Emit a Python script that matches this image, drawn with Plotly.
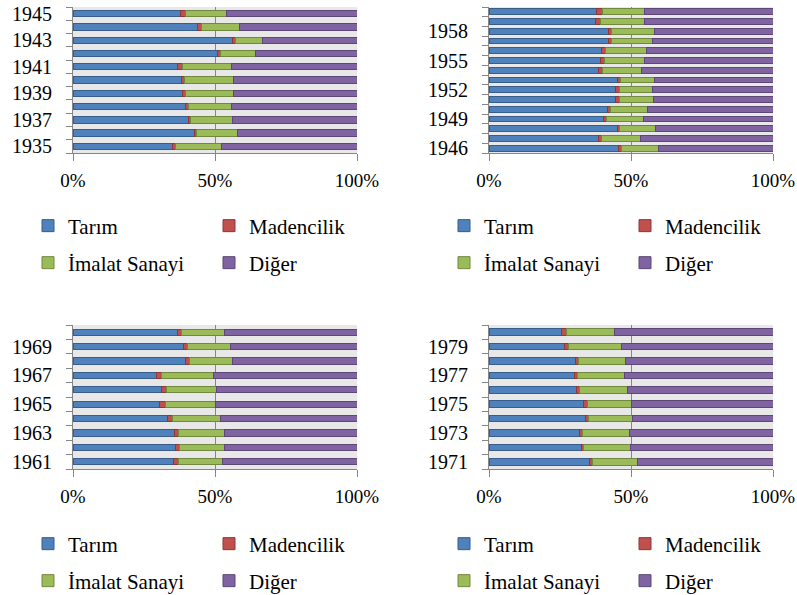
import plotly.graph_objects as go

# ---------------- data (shares, %) ----------------
series_names = ["Tarım", "Madencilik", "İmalat Sanayi", "Diğer"]

years_1 = [1935, 1936, 1937, 1938, 1939, 1940, 1941, 1942, 1943, 1944, 1945]
tarim_1 = [35.1, 42.7, 40.6, 39.6, 38.7, 38.1, 36.7, 50.9, 56.1, 43.8, 38.0]
maden_1 = [1.0, 0.9, 0.8, 1.0, 0.8, 1.3, 1.9, 1.0, 1.0, 1.4, 1.6]
imalat_1 = [16.1, 14.2, 14.8, 15.3, 16.9, 17.1, 17.3, 12.2, 9.7, 13.6, 14.3]
diger_1 = [47.8, 42.2, 43.8, 44.1, 43.6, 43.5, 44.1, 35.9, 33.2, 41.2, 46.1]
ticks_1 = [1935, 1937, 1939, 1941, 1943, 1945]

years_2 = [1946, 1947, 1948, 1949, 1950, 1951, 1952, 1953, 1954, 1955, 1956, 1957, 1958, 1959, 1960]
tarim_2 = [45.5, 38.5, 45.2, 40.2, 41.8, 44.7, 44.7, 45.2, 38.6, 39.3, 39.6, 42.0, 41.9, 37.5, 37.9]
maden_2 = [1.1, 1.0, 0.9, 1.1, 1.1, 1.3, 1.2, 1.2, 1.5, 1.4, 1.3, 1.3, 1.2, 1.8, 1.9]
imalat_2 = [13.2, 13.7, 12.6, 13.1, 12.9, 11.8, 11.6, 11.8, 13.5, 13.9, 14.6, 14.1, 15.1, 15.6, 14.8]
diger_2 = [40.2, 46.8, 41.3, 45.6, 44.2, 42.2, 42.5, 41.8, 46.4, 45.4, 44.5, 42.6, 41.8, 45.1, 45.4]
ticks_2 = [1946, 1949, 1952, 1955, 1958]

years_3 = [1961, 1962, 1963, 1964, 1965, 1966, 1967, 1968, 1969, 1970]
tarim_3 = [35.3, 36.0, 35.8, 33.4, 30.6, 31.1, 29.5, 39.5, 38.8, 36.8]
maden_3 = [1.9, 1.6, 1.5, 1.8, 1.9, 1.8, 1.7, 1.4, 1.4, 1.4]
imalat_3 = [15.5, 15.9, 15.9, 16.6, 17.5, 17.7, 18.3, 15.1, 15.3, 15.3]
diger_3 = [47.3, 46.5, 46.8, 48.2, 50.0, 49.4, 50.5, 44.0, 44.5, 46.5]
ticks_3 = [1961, 1963, 1965, 1967, 1969]

years_4 = [1971, 1972, 1973, 1974, 1975, 1976, 1977, 1978, 1979, 1980]
tarim_4 = [35.3, 32.4, 31.9, 34.0, 33.4, 30.8, 30.0, 30.5, 26.7, 25.6]
maden_4 = [1.3, 1.0, 1.0, 1.1, 1.2, 1.2, 1.1, 1.1, 1.3, 1.7]
imalat_4 = [15.8, 16.4, 16.6, 15.6, 15.5, 16.7, 16.5, 16.3, 18.5, 16.9]
diger_4 = [47.6, 50.2, 50.5, 49.3, 49.9, 51.3, 52.4, 52.1, 53.5, 55.8]
ticks_4 = [1971, 1973, 1975, 1977, 1979]

x_tick_vals = [0, 50, 100]
x_tick_text = ["0%", "50%", "100%"]

# ---------------- styling ----------------
FONT = "Liberation Serif"
fills = ["#4F81BD", "#C0504D", "#9BBB59", "#8064A2"]
edges = ["#385D8A", "#8C3836", "#71893F", "#5C4776"]
AXIS = "#868686"
W, H = 797, 595

panels = [
    (years_1, [tarim_1, maden_1, imalat_1, diger_1], ticks_1),
    (years_2, [tarim_2, maden_2, imalat_2, diger_2], ticks_2),
    (years_3, [tarim_3, maden_3, imalat_3, diger_3], ticks_3),
    (years_4, [tarim_4, maden_4, imalat_4, diger_4], ticks_4),
]

# plot-area pixel boxes (left, right, top, bottom)
boxes = [(73, 357, 7, 153), (489, 773, 7, 153), (73, 357, 325, 469), (489, 773, 325, 469)]
bar_widths = [0.48, 0.6, 0.42, 0.45]
# legend anchors: (x px, row1 y px, row2 y px)
leg_pos = [(28, 226, 263), (444, 226, 263), (28, 544, 581), (444, 544, 581)]


def fx(px):
    return min(1.0, max(0.0, px / W))


def fy(py):
    return min(1.0, max(0.0, 1 - py / H))


fig = go.Figure()
layout = dict(
    width=W, height=H, margin=dict(l=0, r=0, t=0, b=0, autoexpand=False),
    paper_bgcolor="white", plot_bgcolor="#E8E8E8",
    font=dict(family=FONT, color="black", size=19),
    barmode="stack", showlegend=True,
)

for p, (years, vals, tks) in enumerate(panels):
    ax = "" if p == 0 else str(p + 1)
    l1 = "legend" if p == 0 else "legend%d" % (2 * p + 1)
    l2 = "legend%d" % (2 * p + 2)
    for s in range(4):
        fig.add_trace(go.Bar(
            y=years, x=vals[s], orientation="h", name=series_names[s],
            marker=dict(color=fills[s], line=dict(color=edges[s], width=1)),
            width=bar_widths[p],
            xaxis="x" + ax, yaxis="y" + ax,
            legend=l1 if s < 2 else l2,
            showlegend=True,
        ))
    L, R, T, B = boxes[p]
    layout["xaxis" + ax] = dict(
        domain=[fx(L), fx(R)], anchor="y" + ax, range=[0, 100],
        tickvals=x_tick_vals, ticktext=x_tick_text,
        showgrid=True, gridcolor=AXIS, gridwidth=1, zeroline=False,
        showline=True, linecolor=AXIS, linewidth=1,
        ticks="outside", ticklen=7, tickcolor=AXIS, automargin=False,
        ticklabelstandoff=3, ticklabeloverflow="allow",
        tickfont=dict(family=FONT, size=19, color="black"),
    )
    layout["yaxis" + ax] = dict(
        domain=[fy(B), fy(T)], anchor="x" + ax,
        range=[years[0] - 0.5, years[-1] + 0.5],
        tickvals=tks, ticktext=[str(t) for t in tks],
        ticks="", showgrid=False, zeroline=False,
        showline=True, linecolor=AXIS, linewidth=1, automargin=False,
        minor=dict(tick0=years[0] - 0.5, dtick=1, ticks="outside", ticklen=6,
                   tickcolor=AXIS, showgrid=False),
        ticklabelstandoff=16, ticklabeloverflow="allow",
        tickfont=dict(family=FONT, size=20, color="black"),
    )
    lx, r1, r2 = leg_pos[p]
    for name, ry in ((l1, r1), (l2, r2)):
        layout[name] = dict(
            x=fx(lx), y=fy(ry), xanchor="left", yanchor="middle",
            xref="container", yref="container",
            orientation="h", entrywidth=136, entrywidthmode="pixels",
            font=dict(family=FONT, size=21, color="black"),
            bgcolor="rgba(0,0,0,0)", tracegroupgap=0, traceorder="normal",
        )

fig.update_layout(**layout)
# let the fixed-size figure start at the page's top-left corner
fig.write_html("out.html", config={"displayModeBar": False},
               post_script="document.body.style.margin='0px';")
